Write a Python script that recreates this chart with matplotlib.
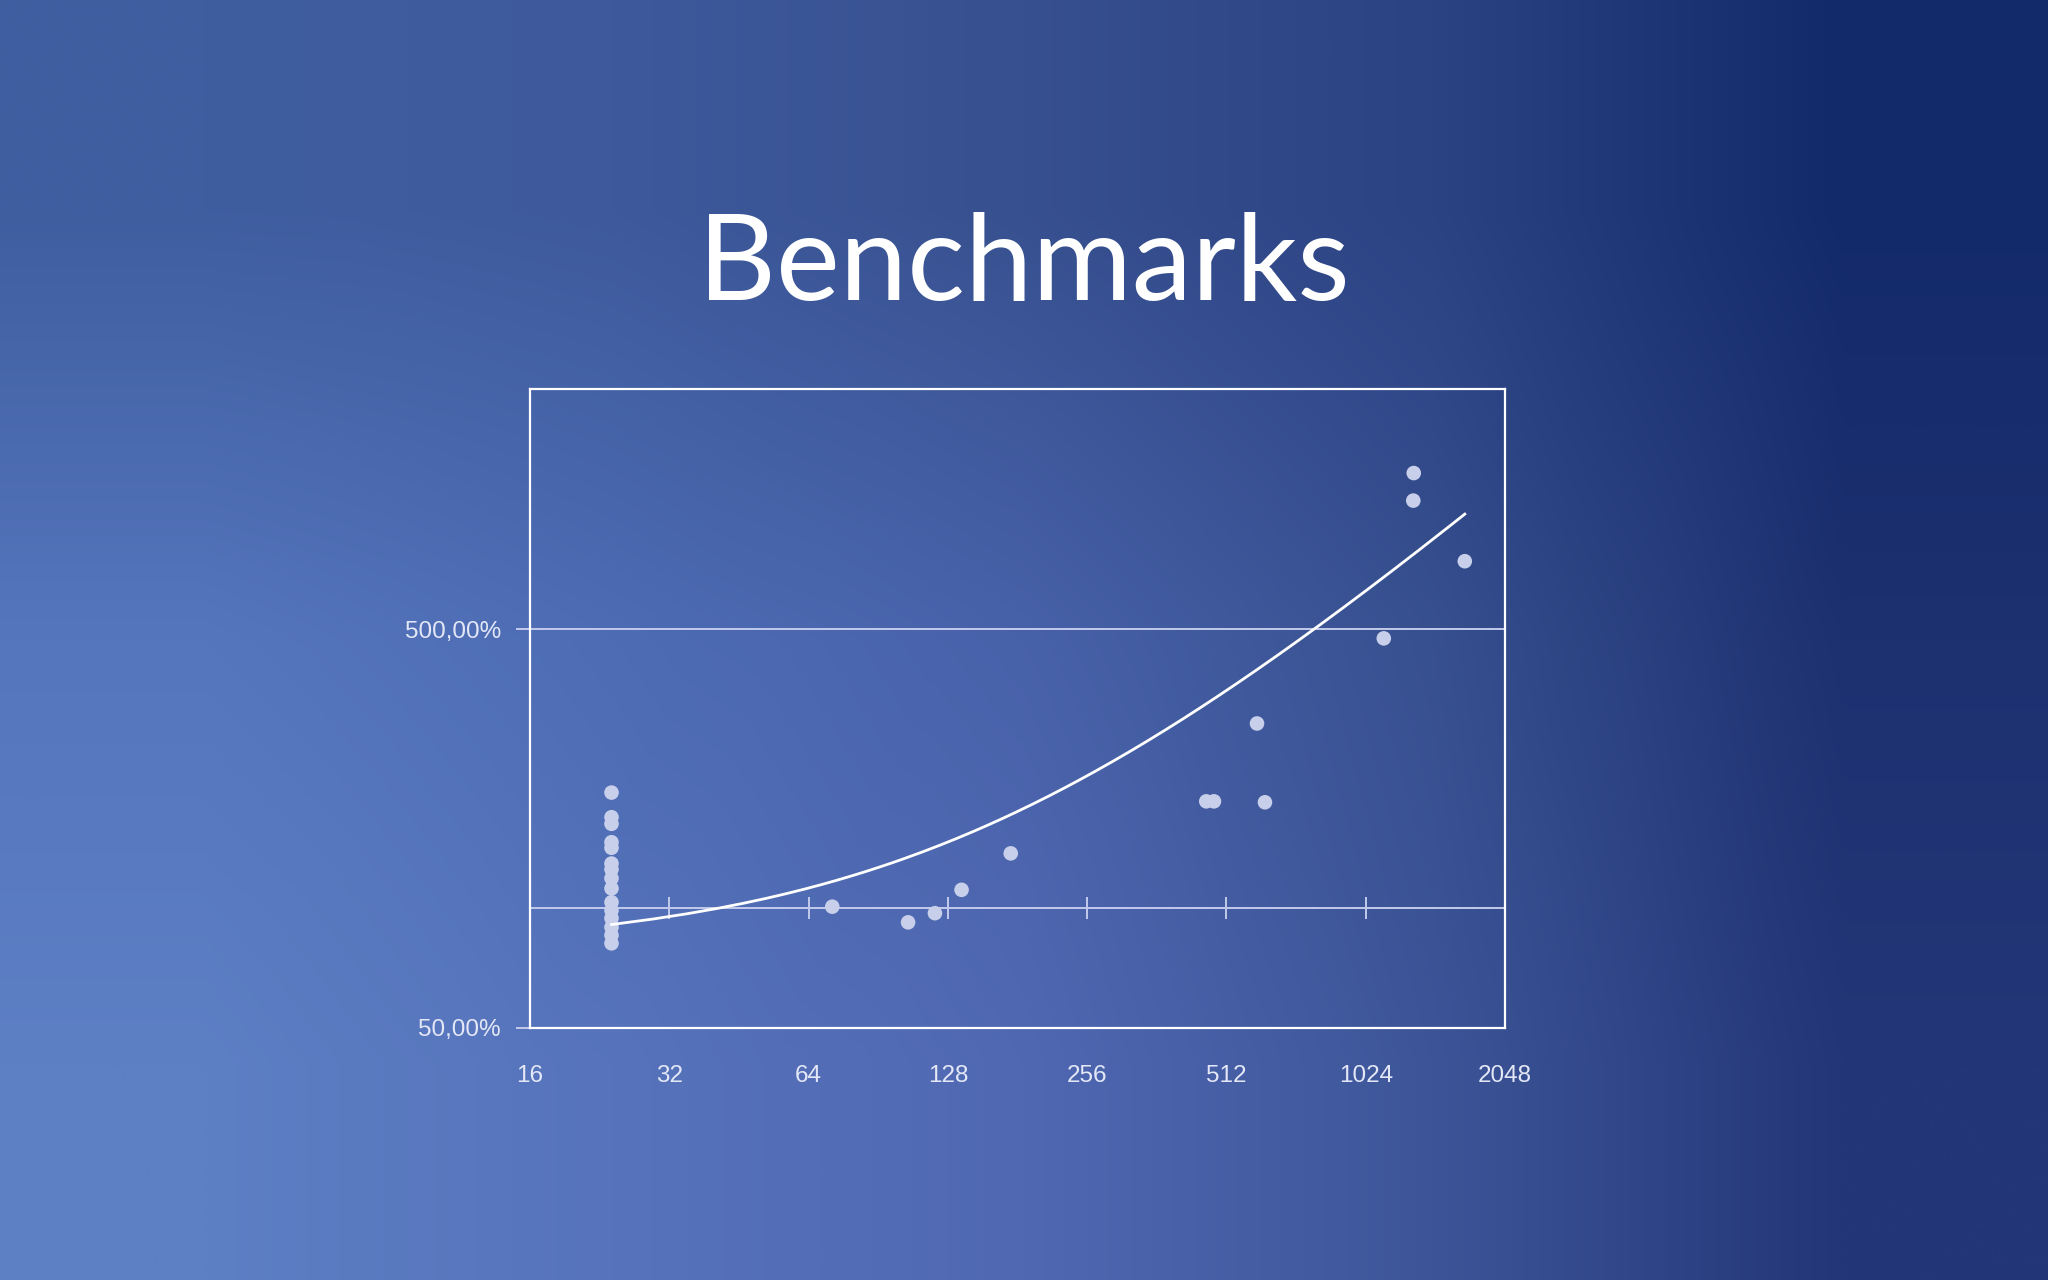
import numpy as np
import matplotlib
matplotlib.use('Agg')
import matplotlib.pyplot as plt

# problem size (x) and relative performance (1.0 = 100%)
sizes = [24, 24, 24, 24, 24, 24, 24, 24, 24, 24, 24, 24, 24, 24, 24,
         72, 105, 120, 137, 175, 463, 481, 620, 596, 1120, 1300, 1297, 1676]
speedup = [1.946, 1.688, 1.625, 1.461, 1.415, 1.292, 1.249, 1.186, 1.119,
           1.033, 0.986, 0.942, 0.894, 0.854, 0.815,
           1.007, 0.92, 0.97, 1.11, 1.37, 1.85, 1.85, 1.84, 2.90,
           4.74, 12.31, 10.50, 7.40]

x_ticks = [16, 32, 64, 128, 256, 512, 1024, 2048]
x_labels = ['16', '32', '64', '128', '256', '512', '1024', '2048']
y_ticks = [0.5, 5.0]
y_labels = ['50,00%', '500,00%']
title = 'Benchmarks'

line_col = '#c3cbec'
text_col = '#e4e8f6'
dot_col = '#c8cfea'

fig = plt.figure(figsize=(20.48, 12.8), dpi=100)

# background gradient (light bottom-left, dark navy to the right)
bg = fig.add_axes([0, 0, 1, 1], zorder=-10)
grad = np.array([
    [[0x3f, 0x5e, 0xa0], [0x3e, 0x5a, 0x9c], [0x37, 0x50, 0x8f], [0x2b, 0x42, 0x83], [0x13, 0x2a, 0x6a]],
    [[0x55, 0x75, 0xbd], [0x4d, 0x6c, 0xb4], [0x48, 0x62, 0xaa], [0x37, 0x50, 0x8f], [0x1d, 0x30, 0x70]],
    [[0x5d, 0x7f, 0xc4], [0x56, 0x73, 0xbb], [0x50, 0x68, 0xb2], [0x3d, 0x55, 0x98], [0x23, 0x36, 0x77]],
]) / 255.0
bg.imshow(grad, aspect='auto', interpolation='bilinear', extent=[0, 1, 0, 1])
bg.set_axis_off()

ax = fig.add_axes([0.2588, 0.1969, 0.4761, 0.4992])
ax.patch.set_alpha(0)

ax.scatter(sizes, speedup, s=10.5 ** 2, color=dot_col, edgecolors='none', zorder=3)

# linear trendline
coef = np.polyfit(sizes, speedup, 1)
xs = np.linspace(min(sizes), max(sizes), 300)
ax.plot(xs, np.polyval(coef, xs), color='white', lw=2.0, zorder=4)

ax.set_xscale('log', base=2)
ax.set_yscale('log')
ax.set_xlim(16, 2048)
ax.set_ylim(0.5, 20)

# gridline and horizontal axis crossing at 100%
ax.axhline(5.0, color=line_col, lw=1.4, zorder=1)
ax.axhline(1.0, color=line_col, lw=1.4, zorder=1)
ax.plot(x_ticks[1:-1], [1.0] * len(x_ticks[1:-1]), ls='none', marker='|',
        ms=16, mew=1.4, color=line_col, zorder=1)

ax.set_xticks(x_ticks, x_labels)
ax.set_yticks(y_ticks, y_labels)
ax.xaxis.set_minor_locator(matplotlib.ticker.NullLocator())
ax.yaxis.set_minor_locator(matplotlib.ticker.NullLocator())

ax.tick_params(axis='x', length=0, pad=27, labelsize=17.5, labelcolor=text_col)
ax.tick_params(axis='y', length=10, width=1.4, color=line_col, pad=11,
               labelsize=17.5, labelcolor=text_col)
for lab in ax.get_xticklabels() + ax.get_yticklabels():
    lab.set_fontfamily('Liberation Sans')

for sp in ax.spines.values():
    sp.set_color('white')
    sp.set_linewidth(1.6)

fig.text(0.5, 0.7656, title, ha='center', va='baseline', color='white',
         fontsize=87, family='Lato')

fig.savefig('out.png', dpi=100)
